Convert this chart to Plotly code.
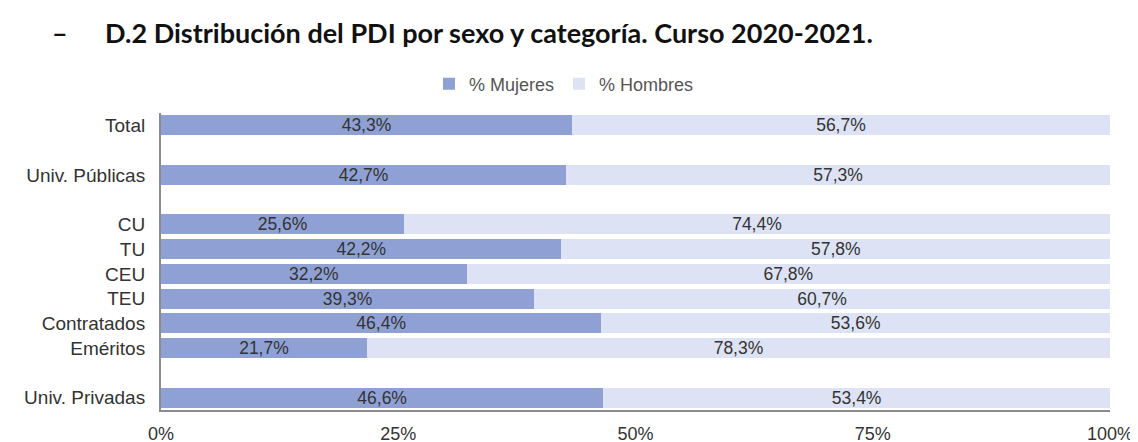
import plotly.graph_objects as go

categories = ["Total", " ", "Univ. Públicas", "  ", "CU", "TU", "CEU", "TEU",
              "Contratados", "Eméritos", "   ", "Univ. Privadas"]
mujeres = [43.3, None, 42.7, None, 25.6, 42.2, 32.2, 39.3, 46.4, 21.7, None, 46.6]
hombres = [56.7, None, 57.3, None, 74.4, 57.8, 67.8, 60.7, 53.6, 78.3, None, 53.4]
tick_vals = [0, 25, 50, 75, 100]
tick_text = ["0%", "25%", "50%", "75%", "100%"]
title_text = "D.2 Distribución del PDI por sexo y categoría. Curso 2020-2021."

FONT = "Liberation Sans, Arial"


def fmt(v):
    return "" if v is None else f"{v:.1f}%".replace(".", ",")


fig = go.Figure()
fig.add_trace(go.Bar(
    y=categories, x=mujeres, name="% Mujeres", orientation="h",
    marker=dict(color="#8FA1D4", line=dict(width=0)),
    text=[fmt(v) for v in mujeres], textposition="inside",
    insidetextanchor="middle", constraintext="none",
    textfont=dict(family=FONT, size=17.5, color="#333333"),
    width=0.8,
))
fig.add_trace(go.Bar(
    y=categories, x=hombres, name="% Hombres", orientation="h",
    marker=dict(color="#DDE3F4", line=dict(width=0)),
    text=[fmt(v) for v in hombres], textposition="inside",
    insidetextanchor="middle", constraintext="none",
    textfont=dict(family=FONT, size=17.5, color="#333333"),
    width=0.8,
))

L, R, T, B = 153, 36, 105, 40
PW = 1138 - L - R
PH = 442 - T - B

fig.update_layout(
    barmode="stack",
    width=1138, height=442,
    margin=dict(l=L, r=R, t=T, b=B, autoexpand=False),
    paper_bgcolor="white", plot_bgcolor="white",
    font=dict(family=FONT, color="#333333"),
    showlegend=True,
    legend=dict(orientation="h", x=(556 - L) / PW, xanchor="center",
                y=1 + 29 / PH, yanchor="middle",
                font=dict(size=18, color="#555555"), traceorder="normal",
                itemwidth=30),
)
fig.update_yaxes(
    categoryorder="array", categoryarray=categories, autorange="reversed",
    showline=True, linecolor="#8C8C8C", linewidth=2, showgrid=False,
    ticks="", tickfont=dict(size=19, color="#333333"), ticklabelstandoff=10,
)
fig.update_xaxes(
    range=[0, 100], tickvals=tick_vals, ticktext=tick_text,
    showline=True, linecolor="#8C8C8C", linewidth=2, showgrid=False,
    ticks="outside", ticklen=6, tickcolor="white", zeroline=False,
    tickfont=dict(size=18, color="#333333"),
)
fig.add_annotation(text="<b>–</b>", xref="paper", yref="paper",
                   x=(42 - L) / PW, y=1 + (T - 24) / PH, xanchor="left",
                   yanchor="middle", showarrow=False,
                   font=dict(family="Lato, Carlito, sans-serif", size=27, color="#111111"))
fig.add_annotation(text=f"<b>{title_text}</b>", xref="paper", yref="paper",
                   x=(95 - L) / PW, y=1 + (T - 24) / PH, xanchor="left",
                   yanchor="middle", showarrow=False,
                   font=dict(family="Lato, Carlito, sans-serif", size=27, color="#111111"))

fig.write_html("out.html")
